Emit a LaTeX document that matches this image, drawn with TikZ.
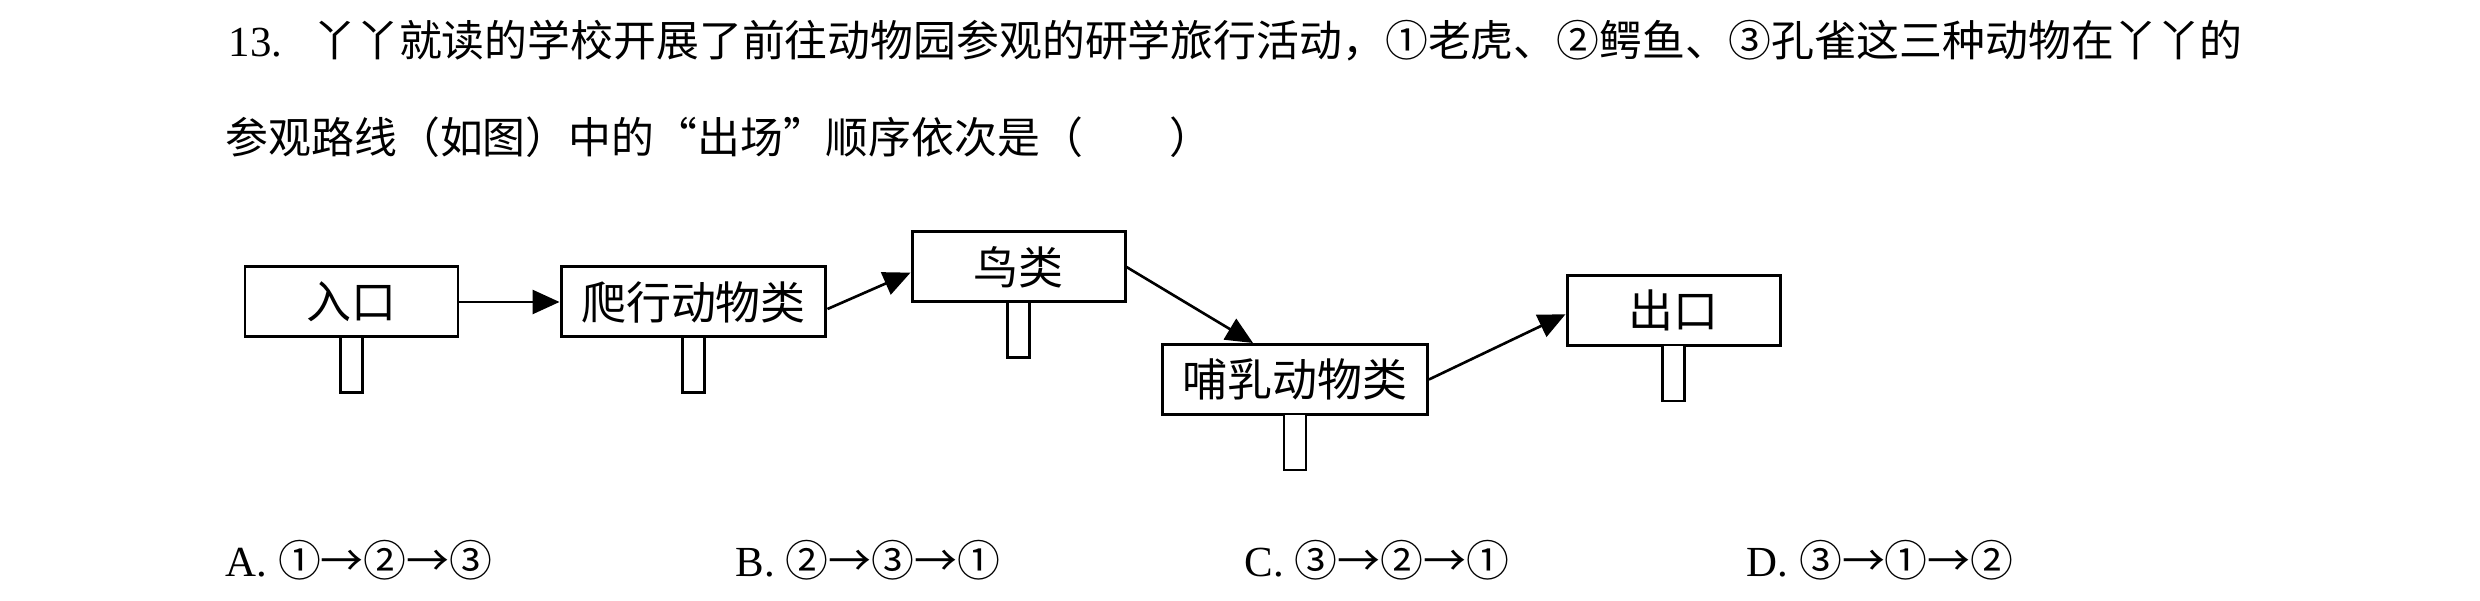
\documentclass[tikz,border=0pt]{standalone}
\usepackage{fontspec}
\setmainfont{Liberation Serif}
\newfontfamily\cjk{Noto Sans CJK SC}
\usetikzlibrary{arrows.meta,positioning}
\tikzset{
  signbox/.style={draw, line width=0.85pt, fill=white, minimum width=2.13cm, minimum height=0.7cm, inner xsep=0.2cm, inner ysep=0pt, font=\cjk\fontsize{12.8}{14}\selectfont},
  signpost/.style={draw, line width=0.7pt, fill=white, minimum width=0.22cm, minimum height=0.56cm, inner sep=0pt},
  route/.style={line width=0.75pt, -{Triangle[length=0.27cm,width=0.24cm]}},
  question/.style={anchor=base west, inner sep=0pt, font=\fontsize{12.2}{14}\selectfont}
}
\newcommand{\zoosign}[3] {\node at (#1) (#2) [signbox] {#3}; \node [signpost, below=-0.85pt of #2] (#2post) {};}
\newcommand{\zooroute}[2] {\draw [route] (#1) -- (#2);}

\begin{document}
\begin{tikzpicture}[x=0.1mm, y=-0.1mm]
\useasboundingbox (0,0) rectangle (2480,601);

\node (line1) [question] at (228,57) {13.\hspace{0.31cm}{\cjk 丫丫就读的学校开展了前往动物园参观的研学旅行活动，①老虎、②鳄鱼、③孔雀这三种动物在丫丫的}};
\node (line2) [question] at (225,154) {{\cjk 参观路线（如图）中的“出场”顺序依次是（　　）}};

\zoosign {351.5,302} {rukou} {入口}
\zoosign {693.5,302} {paxing} {爬行动物类}
\zoosign {1018.5,267} {niaolei} {鸟类}
\zoosign {1295,379.5} {buru} {哺乳动物类}
\zoosign {1673.5,310.5} {chukou} {出口}

\zooroute {rukou} {paxing}
\zooroute {paxing.-3} {niaolei.183}
\zooroute {niaolei.east} {buru.139}
\zooroute {buru.east} {chukou.182}

\node (optA) [question] at (225,577) {A. {\cjk ①→②→③}};
\node (optB) [question] at (735,577) {B. {\cjk ②→③→①}};
\node (optC) [question] at (1244,577) {C. {\cjk ③→②→①}};
\node (optD) [question] at (1746,577) {D. {\cjk ③→①→②}};
\end{tikzpicture}
\end{document}
